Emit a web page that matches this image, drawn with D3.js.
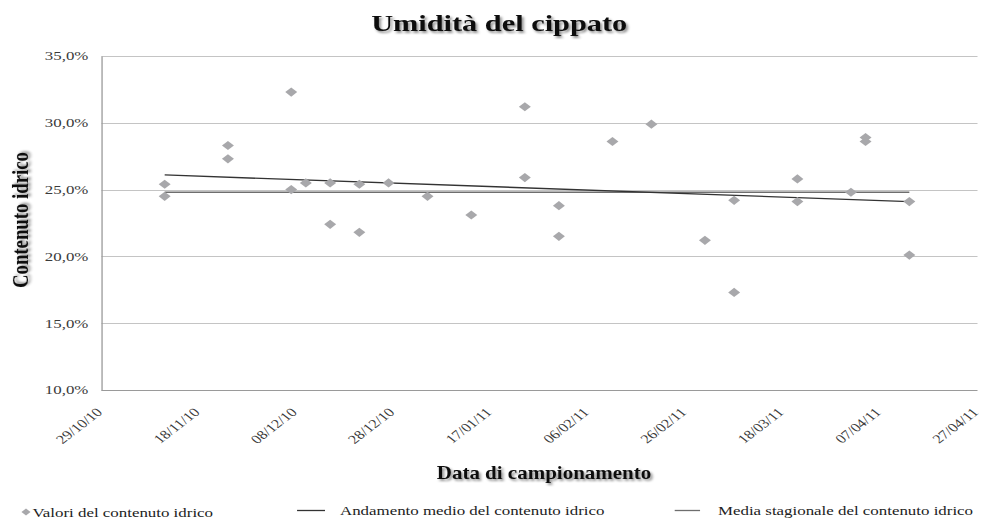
<!DOCTYPE html>
<html>
<head>
<meta charset="utf-8">
<script src="https://cdn.jsdelivr.net/npm/d3@7"></script>
<style>
  body { margin: 0; background: #fff; }
  svg text { font-family: "Liberation Serif", "Times New Roman", serif; }
</style>
</head>
<body>
<div id="chart"></div>
<script>
// sampling dates and moisture values (%)
var dates = ["2010-11-11", "2010-11-11", "2010-11-24", "2010-11-24", "2010-12-07", "2010-12-07",
    "2010-12-10", "2010-12-15", "2010-12-15", "2010-12-21", "2010-12-21", "2010-12-27",
    "2011-01-04", "2011-01-13", "2011-01-24", "2011-01-24", "2011-01-31", "2011-01-31",
    "2011-02-11", "2011-02-19", "2011-03-02", "2011-03-08", "2011-03-08", "2011-03-21",
    "2011-03-21", "2011-04-01", "2011-04-04", "2011-04-04", "2011-04-13", "2011-04-13"];
var values = [25.4, 24.5, 28.3, 27.3, 32.3, 25.0,
    25.5, 25.5, 22.4, 25.4, 21.8, 25.5,
    24.5, 23.1, 31.2, 25.9, 23.8, 21.5,
    28.6, 29.9, 21.2, 24.2, 17.3, 25.8,
    24.1, 24.8, 28.9, 28.6, 24.1, 20.1];

// trend line (andamento medio) and seasonal mean
var trendDates = ["2010-11-11", "2011-04-13"];
var trendValues = [26.1, 24.1];
var mediaDates = ["2010-11-11", "2011-04-13"];
var mediaValue = 24.8;

var tickDates = ["2010-10-29", "2010-11-18", "2010-12-08", "2010-12-28", "2011-01-17",
    "2011-02-06", "2011-02-26", "2011-03-18", "2011-04-07", "2011-04-27"];
var yTicks = [10, 15, 20, 25, 30, 35];

var parse = d3.timeParse("%Y-%m-%d");
var fmt = d3.timeFormat("%d/%m/%y");
var serif = "'Liberation Serif', 'Times New Roman', serif";

// the original picture is stretched sideways, so draw in a narrower box and stretch it
var W = 984, H = 519, sx = 1.3;
var IW = W / sx;
var margin = { top: 56, right: 5, bottom: 129, left: 78 },
    width = IW - margin.left - margin.right,
    height = H - margin.top - margin.bottom;

var svg = d3.select("#chart")
    .append("svg")
    .attr("width", W)
    .attr("height", H)
    .attr("viewBox", "0 0 " + IW + " " + H)
    .attr("preserveAspectRatio", "none");

var defs = svg.append("defs");
var f = defs.append("filter").attr("id", "shadow").attr("x", "-10%").attr("y", "-20%").attr("width", "130%").attr("height", "160%");
f.append("feDropShadow").attr("dx", 1.5).attr("dy", 2).attr("stdDeviation", 1.2).attr("flood-color", "#000").attr("flood-opacity", 0.45);

var g = svg.append("g")
    .attr("transform", "translate(" + margin.left + "," + margin.top + ")");

var x = d3.scaleTime()
    .domain([parse(tickDates[0]), parse(tickDates[tickDates.length - 1])])
    .range([0, width]);

var y = d3.scaleLinear()
    .domain([10, 35])
    .range([height, 0]);

// gridlines
g.selectAll(".grid")
    .data(yTicks)
    .enter()
    .append("line")
    .attr("x1", 0)
    .attr("x2", width)
    .attr("y1", function(d) { return Math.round(y(d)) + 0.5; })
    .attr("y2", function(d) { return Math.round(y(d)) + 0.5; })
    .attr("stroke", function(d) { return d == 10 ? "#9a9a9a" : "#c4c4c4"; })
    .attr("stroke-width", 1.2);

// y axis
var yAxis = g.append("g")
    .call(d3.axisLeft(y).tickValues(yTicks).tickSize(0).tickPadding(10)
        .tickFormat(function(d) { return d.toFixed(1).replace(".", ",") + "%"; }));
yAxis.attr("font-family", serif);
yAxis.select(".domain").attr("stroke", "#9a9a9a").attr("stroke-width", 1);
yAxis.selectAll("text")
    .attr("dy", "0.3em")
    .style("font-family", serif)
    .style("font-size", "13px")
    .style("fill", "#3a3a3a");

// x axis
var xAxis = g.append("g")
    .attr("transform", "translate(0," + height + ")")
    .call(d3.axisBottom(x).tickValues(tickDates.map(parse)).tickFormat(fmt).tickSize(0));
xAxis.attr("font-family", serif);
xAxis.select(".domain").remove();
xAxis.selectAll("text")
    .attr("x", 0)
    .attr("y", 0)
    .attr("dy", 0)
    .attr("transform", "translate(1,23)rotate(-45)")
    .style("text-anchor", "end")
    .style("font-family", serif)
    .style("font-size", "12.5px")
    .style("fill", "#3a3a3a");

// seasonal mean line
g.append("line")
    .attr("x1", x(parse(mediaDates[0])))
    .attr("x2", x(parse(mediaDates[1])))
    .attr("y1", y(mediaValue))
    .attr("y2", y(mediaValue))
    .attr("stroke", "#6e6e6e")
    .attr("stroke-width", 1.3);

// trend line
g.append("line")
    .attr("x1", x(parse(trendDates[0])))
    .attr("x2", x(parse(trendDates[1])))
    .attr("y1", y(trendValues[0]))
    .attr("y2", y(trendValues[1]))
    .attr("stroke", "#333")
    .attr("stroke-width", 1.4);

// diamonds
var diamond = "M0,-4.6L4.6,0L0,4.6L-4.6,0Z";
g.selectAll(".pt")
    .data(values)
    .enter()
    .append("path")
    .attr("d", diamond)
    .attr("transform", function(d, i) { return "translate(" + x(parse(dates[i])) + "," + y(d) + ")"; })
    .attr("fill", "#a8a8ab");

// title
svg.append("text")
    .attr("x", 384)
    .attr("y", 31)
    .attr("text-anchor", "middle")
    .attr("textLength", 197)
    .attr("lengthAdjust", "spacingAndGlyphs")
    .style("font-size", "24px")
    .style("font-weight", "bold")
    .style("fill", "#111")
    .attr("filter", "url(#shadow)")
    .text("Umidità del cippato");

// axis titles
svg.append("text")
    .attr("transform", "translate(21.5,220)rotate(-90)")
    .attr("text-anchor", "middle")
    .attr("textLength", 136)
    .attr("lengthAdjust", "spacingAndGlyphs")
    .style("font-size", "18px")
    .style("font-weight", "bold")
    .style("fill", "#111")
    .attr("filter", "url(#shadow)")
    .text("Contenuto idrico");

svg.append("text")
    .attr("x", 544 / sx)
    .attr("y", 479)
    .attr("text-anchor", "middle")
    .attr("textLength", 165)
    .attr("lengthAdjust", "spacingAndGlyphs")
    .style("font-size", "18px")
    .style("font-weight", "bold")
    .style("fill", "#111")
    .attr("filter", "url(#shadow)")
    .text("Data di campionamento");

// legend
var leg = svg.append("g");
leg.append("path").attr("d", "M0,-3.5L3.5,0L0,3.5L-3.5,0Z").attr("transform", "translate(20,512)").attr("fill", "#a8a8ab");
leg.append("text").attr("x", 25).attr("y", 517).style("font-size", "13px").style("fill", "#222").text("Valori del contenuto idrico");
leg.append("line").attr("x1", 228.5).attr("x2", 250).attr("y1", 510.5).attr("y2", 510.5).attr("stroke", "#333").attr("stroke-width", 1.3);
leg.append("text").attr("x", 261.5).attr("y", 515).style("font-size", "13px").style("fill", "#222").text("Andamento medio del contenuto idrico");
leg.append("line").attr("x1", 519).attr("x2", 538.5).attr("y1", 510.5).attr("y2", 510.5).attr("stroke", "#6e6e6e").attr("stroke-width", 1.3);
leg.append("text").attr("x", 552.3).attr("y", 515).style("font-size", "13px").style("fill", "#222").text("Media stagionale del contenuto idrico");
</script>
</body>
</html>
